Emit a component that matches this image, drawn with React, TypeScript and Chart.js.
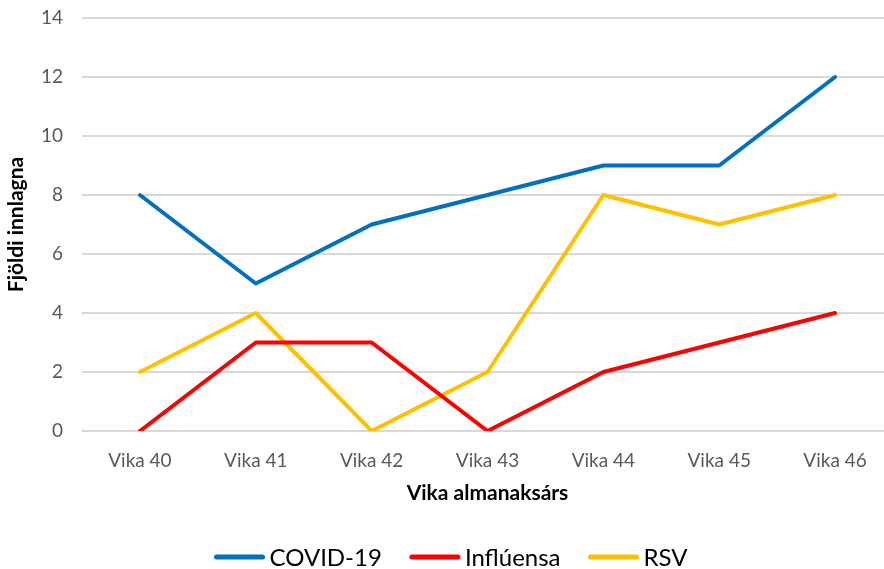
import React, { useEffect, useRef } from "react";
import { Chart, registerables } from "chart.js";

Chart.register(...registerables);

const categories = ["Vika 40", "Vika 41", "Vika 42", "Vika 43", "Vika 44", "Vika 45", "Vika 46"];
const covid = [8, 5, 7, 8, 9, 9, 12];
const influensa = [0, 3, 3, 0, 2, 3, 4];
const rsv = [2, 4, 0, 2, 8, 7, 8];
const seriesNames = ["COVID-19", "Inflúensa", "RSV"];
const seriesColors = ["#0070C0", "#FF0000", "#FFC000"];
const yTitle = "Fjöldi innlagna";
const xTitle = "Vika almanaksárs";

const FONT = "Lato, 'Open Sans', sans-serif";

const bottomLegend = {
  id: "bottomLegend",
  afterDraw(chart: any) {
    const ctx = chart.ctx;
    const ds = chart.data.datasets;
    ctx.save();
    ctx.font = `24px ${FONT}`;
    const lineW = 50;
    const gapText = 5;
    const gapItem = 28;
    const widths = ds.map((d: any) => ctx.measureText(d.label).width);
    let total = 0;
    widths.forEach((w: number, i: number) => {
      total += lineW + gapText + w + (i < widths.length - 1 ? gapItem : 0);
    });
    let x = 451 - total / 2;
    const y = 557;
    ctx.textBaseline = "middle";
    ctx.textAlign = "left";
    ds.forEach((d: any, i: number) => {
      ctx.strokeStyle = d.borderColor;
      ctx.lineWidth = 5;
      ctx.lineCap = "round";
      ctx.beginPath();
      ctx.moveTo(x + 2, y);
      ctx.lineTo(x + lineW - 2, y);
      ctx.stroke();
      ctx.fillStyle = "#000000";
      ctx.fillText(d.label, x + lineW + gapText, y + 1);
      x += lineW + gapText + widths[i] + gapItem;
    });
    ctx.restore();
  },
};

export default function App() {
  const ref = useRef<HTMLCanvasElement>(null);
  useEffect(() => {
    if (!ref.current) return;
    const values = [covid, influensa, rsv];
    const chart = new Chart(ref.current, {
      type: "line",
      data: {
        labels: categories,
        datasets: values.map((v, i) => ({
          label: seriesNames[i],
          data: v,
          borderColor: seriesColors[i],
          backgroundColor: seriesColors[i],
          borderWidth: 4,
          pointRadius: 0,
          tension: 0,
          borderJoinStyle: "round" as const,
          borderCapStyle: "round" as const,
        })),
      },
      plugins: [bottomLegend],
      options: {
        responsive: false,
        animation: false,
        devicePixelRatio: 1,
        layout: { autoPadding: false, padding: { top: 18, left: 0, right: 0, bottom: 29 } },
        plugins: {
          tooltip: { enabled: false },
          legend: { display: false },
        },
        scales: {
          x: {
            offset: true,
            grid: { display: false, drawTicks: false },
            border: { display: false },
            ticks: { font: { family: FONT, size: 19 }, color: "#595959", padding: 18, maxRotation: 0 },
            title: {
              display: true,
              text: xTitle,
              font: { family: FONT, size: 21, weight: "bold" },
              color: "#000000",
              padding: { top: 4, bottom: 34 },
            },
            afterFit: (s: any) => {
              s.height = 109;
              s.paddingLeft = 0;
              s.paddingRight = 0;
            },
          },
          y: {
            min: 0,
            max: 14,
            ticks: { stepSize: 2, font: { family: FONT, size: 19 }, color: "#595959", padding: 19 },
            grid: { color: "#D9D9D9", lineWidth: 2, drawTicks: false },
            border: { display: false },
            title: {
              display: true,
              text: yTitle,
              font: { family: FONT, size: 21, weight: "bold" },
              color: "#000000",
              padding: { top: 4, bottom: 0 },
            },
            afterFit: (s: any) => {
              s.width = 82;
              s.paddingTop = 0;
              s.paddingBottom = 0;
            },
          },
        },
      },
    });
    return () => chart.destroy();
  }, []);
  return (
    <div style={{ position: "fixed", left: 0, top: 0, width: 884, height: 569, overflow: "hidden", background: "#fff" }}>
      <canvas ref={ref} width={893} height={569} style={{ width: 893, height: 569, display: "block" }} />
    </div>
  );
}
